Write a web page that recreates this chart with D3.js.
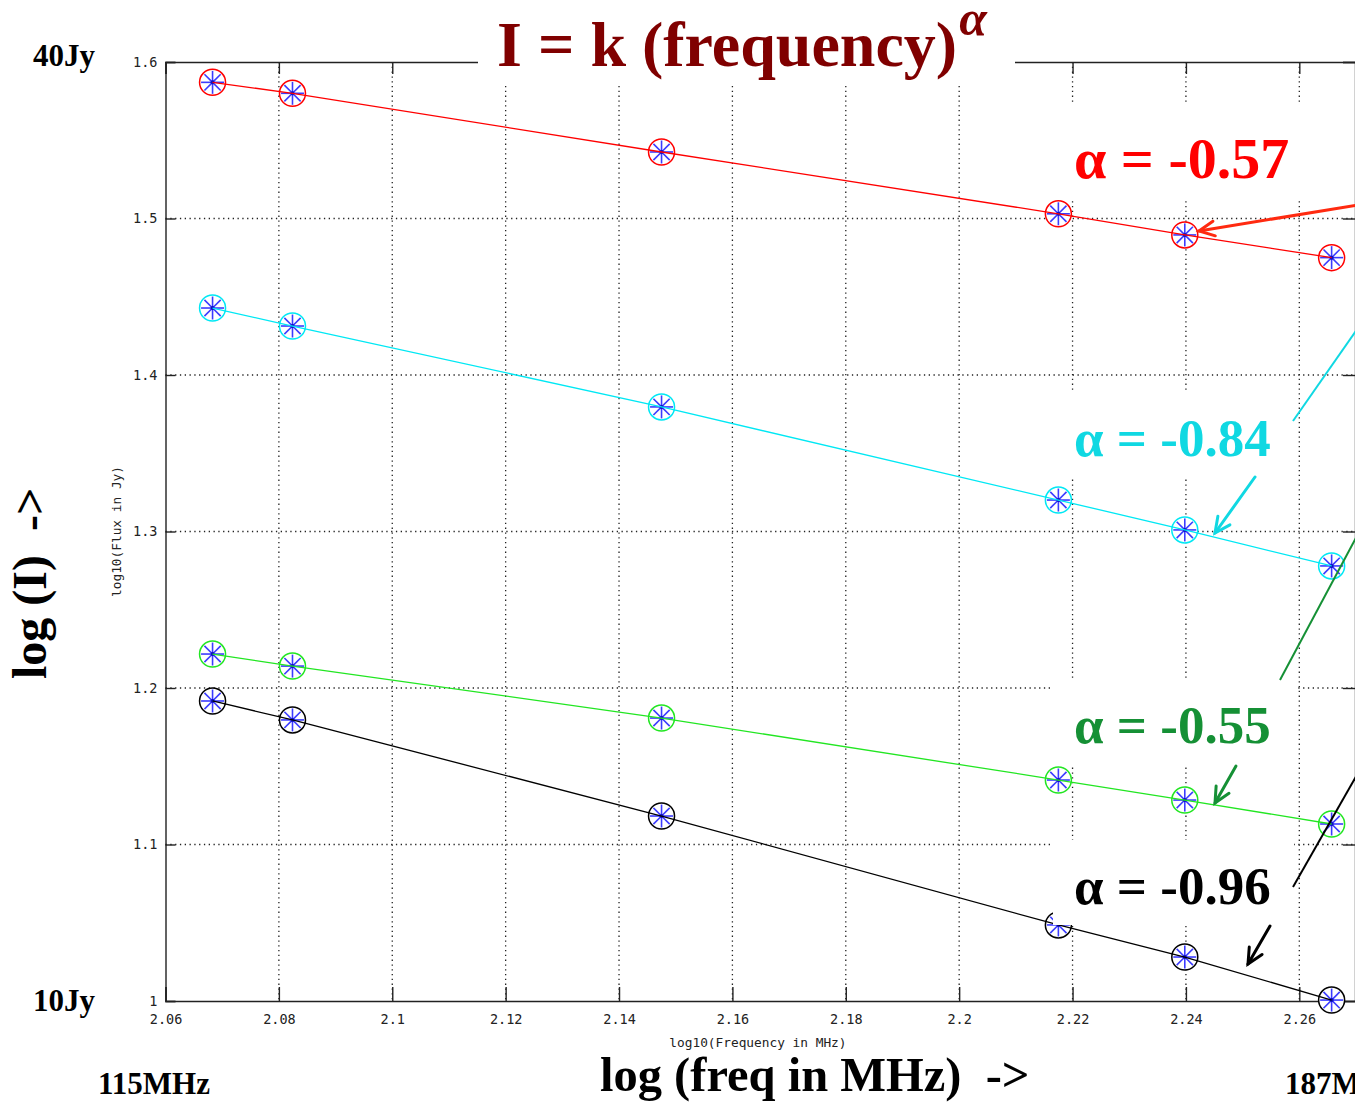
<!DOCTYPE html>
<html>
<head>
<meta charset="utf-8">
<script src="https://cdn.jsdelivr.net/npm/d3@7"></script>
<style>
  html, body { margin: 0; padding: 0; background: #fff; }
  svg { display: block; }
  text { white-space: pre; }
</style>
</head>
<body>
<svg id="chart" width="1355" height="1110"></svg>
<script>
// data (log10 of frequency in MHz, log10 of flux in Jy)
const logFreq = [2.0683, 2.0824, 2.1475, 2.2175, 2.2398, 2.2657];
const redFlux = [1.587, 1.580, 1.5425, 1.503, 1.4895, 1.475];
const cyanFlux = [1.4428, 1.4313, 1.3796, 1.3201, 1.301, 1.278];
const greenFlux = [1.2217, 1.214, 1.1808, 1.1412, 1.1284, 1.1131];
const blackFlux = [1.1917, 1.1796, 1.1182, 1.0486, 1.0281, 1.0006];

const xTicks = [2.06, 2.08, 2.1, 2.12, 2.14, 2.16, 2.18, 2.2, 2.22, 2.24, 2.26];
const xTickLabels = ["2.06", "2.08", "2.1", "2.12", "2.14", "2.16", "2.18", "2.2", "2.22", "2.24", "2.26"];
const yTicks = [1, 1.1, 1.2, 1.3, 1.4, 1.5, 1.6];
const yTickLabels = ["1", "1.1", "1.2", "1.3", "1.4", "1.5", "1.6"];

const alphaLabels = ["α = -0.57", "α = -0.84", "α = -0.55", "α = -0.96"];

const series = [
  { name: "red", values: redFlux, line: "#ff0000" },
  { name: "cyan", values: cyanFlux, line: "#00e8f4" },
  { name: "green", values: greenFlux, line: "#22e622" },
  { name: "black", values: blackFlux, line: "#000000" },
];

const svg = d3.select("#chart");
svg.append("rect").attr("width", 1355).attr("height", 1110).attr("fill", "#fff");

const plot = { left: 165.5, right: 1356, top: 62, bottom: 1001 };

const x = d3.scaleLinear().domain([2.06, 2.27]).range([plot.left, plot.right]);
const y = d3.scaleLinear().domain([1, 1.6]).range([plot.bottom, plot.top]);

// dotted grid
const grid = svg.append("g").attr("stroke", "#222").attr("stroke-width", 1.3)
  .attr("stroke-dasharray", "1.3,3.5");
grid.selectAll("line.gx").data(xTicks.slice(1)).join("line")
  .attr("x1", d => x(d)).attr("x2", d => x(d))
  .attr("y1", plot.top).attr("y2", plot.bottom);
grid.selectAll("line.gy").data(yTicks.slice(1, -1)).join("line")
  .attr("y1", d => y(d)).attr("y2", d => y(d))
  .attr("x1", plot.left).attr("x2", plot.right);

const tickFont = "'DejaVu Sans Mono', monospace";

// bottom axis
svg.append("g").attr("transform", `translate(0,${plot.bottom})`)
  .call(d3.axisBottom(x).tickValues(xTicks).tickSize(-14).tickPadding(13)
    .tickFormat((d, i) => xTickLabels[i]));
// top axis (ticks only)
svg.append("g").attr("transform", `translate(0,${plot.top})`)
  .call(d3.axisTop(x).tickValues(xTicks).tickSize(-12).tickFormat(""));
// left axis
svg.append("g").attr("transform", `translate(${plot.left},0)`)
  .call(d3.axisLeft(y).tickValues(yTicks).tickSize(-10).tickPadding(8)
    .tickFormat((d, i) => yTickLabels[i]));
// right axis (ticks only)
svg.append("g").attr("transform", `translate(${plot.right - 1},0)`)
  .call(d3.axisRight(y).tickValues(yTicks).tickSize(-12).tickFormat(""));

svg.selectAll(".domain").attr("stroke", "#222").attr("stroke-width", 1.4);
svg.selectAll(".tick line").attr("stroke", "#222").attr("stroke-width", 1.4);
svg.selectAll(".tick text").attr("font-family", tickFont).attr("font-size", 13.5)
  .attr("fill", "#222");

// small axis titles
svg.append("text").attr("x", x(2.1645)).attr("y", 1047).attr("text-anchor", "middle")
  .attr("font-family", tickFont).attr("font-size", 12.8).attr("fill", "#222")
  .text("log10(Frequency in MHz)");
svg.append("text").attr("transform", `translate(121,${y(1.3)}) rotate(-90)`)
  .attr("text-anchor", "middle").attr("font-family", tickFont).attr("font-size", 12.8)
  .attr("fill", "#222").text("log10(Flux in Jy)");

// lines and markers
const line = d3.line().x((d, i) => x(logFreq[i])).y(d => y(d));
const spokes = d3.range(8).map(k => k * Math.PI / 4);

series.forEach(s => {
  const pts = s.values.map((v, i) => [x(logFreq[i]), y(v)]);
  const m = svg.append("g").selectAll("g").data(pts).join("g")
    .attr("transform", d => `translate(${d[0]},${d[1]})`);
  m.append("circle").attr("r", 13).attr("fill", "#fff")
    .attr("stroke", s.line).attr("stroke-width", 1.5);
  m.selectAll("line").data(spokes).join("line")
    .attr("x1", 0).attr("y1", 0)
    .attr("x2", a => 11.5 * Math.cos(a)).attr("y2", a => 11.5 * Math.sin(a))
    .attr("stroke", "#3b3bff").attr("stroke-width", 1.6);
  svg.append("path").datum(s.values).attr("d", line)
    .attr("fill", "none").attr("stroke", s.line).attr("stroke-width", 1.3);
  m.append("circle").attr("r", 2).attr("fill", "#1010c0");
});

// white boxes behind the annotations
const boxes = [
  [478, 0, 537, 86],
  [1060, 102, 245, 97],
  [1058, 391, 236, 88],
  [1053, 680, 243, 86],
  [1053, 840, 241, 85],
];
svg.append("g").selectAll("rect").data(boxes).join("rect")
  .attr("x", d => d[0]).attr("y", d => d[1]).attr("width", d => d[2]).attr("height", d => d[3])
  .attr("fill", "#fff");

const serif = "'Liberation Serif', 'Times New Roman', serif";

// title
const title = svg.append("text").attr("x", 497).attr("y", 66)
  .attr("font-family", serif).attr("font-weight", "bold").attr("font-size", 64)
  .attr("fill", "#800000");
title.append("tspan").text("I = k (frequency)");
title.append("tspan").attr("dx", 2).attr("dy", -31).attr("font-size", 50)
  .attr("font-style", "italic").text("α");

// alpha annotations
const labelSpec = [
  { x: 1074, y: 178, size: 58, color: "#ff0000" },
  { x: 1074, y: 456, size: 53, color: "#10d8e2" },
  { x: 1074, y: 743, size: 53, color: "#159035" },
  { x: 1074, y: 904, size: 53, color: "#000000" },
];
svg.append("g").selectAll("text").data(alphaLabels).join("text")
  .attr("x", (d, i) => labelSpec[i].x).attr("y", (d, i) => labelSpec[i].y)
  .attr("font-family", serif).attr("font-weight", "bold")
  .attr("font-size", (d, i) => labelSpec[i].size)
  .attr("fill", (d, i) => labelSpec[i].color)
  .text(d => d);

// arrows
function arrow(x1, y1, x2, y2, color, w) {
  const g = svg.append("g").attr("stroke", color).attr("stroke-width", w)
    .attr("stroke-linecap", "round").attr("fill", "none");
  g.append("line").attr("x1", x1).attr("y1", y1).attr("x2", x2).attr("y2", y2);
  const a = Math.atan2(y1 - y2, x1 - x2);
  const L = 17, spread = 0.45;
  g.append("path").attr("d",
    `M${x2 + L * Math.cos(a + spread)},${y2 + L * Math.sin(a + spread)}` +
    `L${x2},${y2}L${x2 + L * Math.cos(a - spread)},${y2 + L * Math.sin(a - spread)}`);
}
arrow(1358, 205, 1199, 231, "#ff2a10", 3);
arrow(1255, 477, 1215, 533, "#10d8e2", 3);
arrow(1236, 766, 1215, 803, "#159035", 3);
arrow(1270, 926, 1248, 964, "#000000", 3);

// long pointer lines entering from the right
const pointers = [
  [1293, 421, 1358, 328, "#10d8e2"],
  [1280, 680, 1358, 534, "#159035"],
  [1293, 887, 1358, 773, "#000000"],
];
svg.append("g").selectAll("line").data(pointers).join("line")
  .attr("x1", d => d[0]).attr("y1", d => d[1]).attr("x2", d => d[2]).attr("y2", d => d[3])
  .attr("stroke", d => d[4]).attr("stroke-width", 2);

// big axis labels
const bold = sel => sel.attr("font-family", serif).attr("font-weight", "bold").attr("fill", "#000");
svg.append("text").attr("x", 33).attr("y", 66).attr("font-size", 31).call(bold).text("40Jy");
svg.append("text").attr("x", 33).attr("y", 1011).attr("font-size", 31).call(bold).text("10Jy");
svg.append("text").attr("x", 98).attr("y", 1094).attr("font-size", 31).call(bold).text("115MHz");
svg.append("text").attr("x", 1285).attr("y", 1094).attr("font-size", 31).call(bold).text("187MHz");
svg.append("text").attr("x", 600).attr("y", 1091).attr("font-size", 48.5).call(bold)
  .text("log (freq in MHz)  ->");
svg.append("text").attr("transform", "translate(46,679) rotate(-90)")
  .attr("font-size", 48).call(bold).text("log (I)  ->");
</script>
</body>
</html>
